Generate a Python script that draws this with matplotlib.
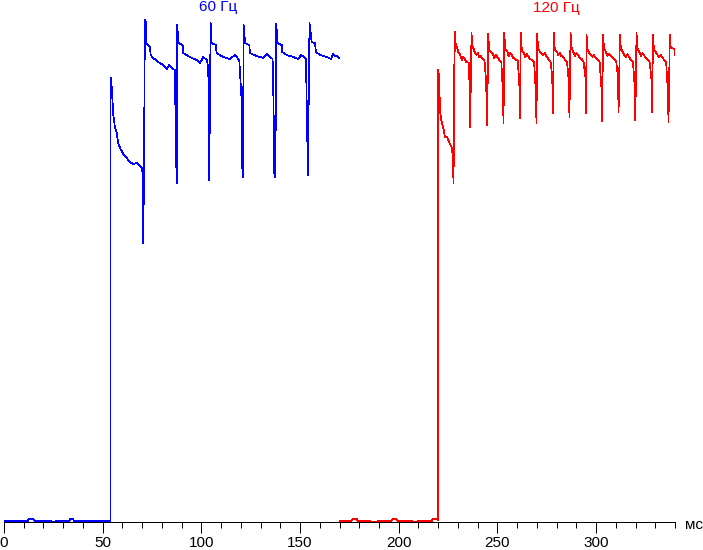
import matplotlib
matplotlib.use("Agg")
import matplotlib.pyplot as plt
from matplotlib.ticker import MultipleLocator

plt.rcParams["font.family"] = ["Liberation Sans", "DejaVu Sans"]

# --- Data: brightness trace vertices (time in ms, level in arbitrary units) ---
blue_t = [0, 12, 12.5, 15, 15.5, 24, 24.5, 26, 26.5, 33, 33.5, 35, 35.5, 53.9,
          54.0, 54.3, 55.4, 56.2, 57.1, 57.9, 58.8, 60.4, 62.2, 63.8, 65.5, 67.2, 68.6, 69.8, 70.2, 70.4, 70.6, 70.9,
          71.4, 71.8, 72.0, 74.0, 74.3, 75.6, 78.2, 80.7, 82.4, 83.8, 85.0, 86.6, 87.1, 87.5,
          87.8, 88.3, 90.5, 90.8, 94.2, 97.6, 99.3, 101.0, 102.7, 103.5, 103.9, 104.0,
          104.7, 105.2, 107.4, 107.7, 111.1, 114.5, 117.0, 119.2, 120.4, 120.7, 121.1,
          121.4, 121.7, 122.1, 124.3, 124.6, 128.0, 131.4, 133.1, 134.8, 136.1, 136.6, 136.9, 137.5,
          138.0, 138.5, 140.7, 141.0, 143.2, 146.6, 149.1, 150.5, 152.0, 153.0, 153.5, 154.0,
          154.8, 155.4, 155.9, 157.5, 158.1, 160.1, 163.5, 165.7, 166.8, 167.7, 168.9, 169.9]
blue_v = [1, 1, 3, 3, 1, 1, 0, 0, 1, 1, 3, 3, 1, 1,
          444, 444, 407, 395, 389, 379, 374, 368, 364, 360, 358, 359, 357, 354, 349, 305, 279, 349,
          502, 500, 479, 475, 467, 464, 460, 457, 453, 457, 454, 452, 375, 339,
          497, 479, 477, 469, 465, 462, 459, 465, 462, 455, 369, 342,
          499, 479, 477, 469, 465, 463, 467, 462, 422, 355, 345,
          497, 492, 479, 477, 469, 466, 464, 468, 465, 463, 415, 349, 345,
          498, 479, 477, 470, 467, 465, 463, 467, 465, 463, 405, 347,
          499, 489, 480, 479, 470, 467, 465, 463, 468, 466, 466, 464]

red_t = [170.2, 176.1, 176.6, 178.7, 179.2, 185.4, 185.9, 188.8, 189.3, 196.4, 196.9, 198.9, 199.4,
         206.5, 207.0, 209.1, 209.6, 216.7, 217.2, 219.2, 219.8,
         220.0, 220.5, 220.9, 221.4, 221.9, 222.6, 223.4, 224.6, 225.1, 225.9, 227.1, 227.6, 227.8, 228.1,
         228.6, 228.9, 229.6, 230.2, 231.2, 231.9, 232.6, 233.4, 234.3, 235.6, 236.0, 236.2,
         236.9, 237.2, 237.8, 238.5, 239.4, 240.1, 240.8, 241.6, 242.5, 243.5, 244.3, 244.6, 244.8,
         245.4, 245.7, 246.0, 246.9, 247.6, 248.4, 249.2, 250.0, 251.0, 252.0, 252.8, 253.1,
         253.5, 253.8, 254.1, 255.0, 255.7, 256.5, 257.3, 258.1, 259.1, 260.3, 261.1, 261.4,
         261.9, 262.2, 262.5, 263.3, 264.1, 264.8, 265.6, 266.5, 267.5, 268.6, 269.5, 269.8,
         270.2, 270.5, 270.8, 271.6, 272.4, 273.2, 274.0, 274.8, 275.8, 276.9, 277.8, 278.1,
         278.6, 278.9, 279.2, 280.0, 280.8, 281.6, 282.4, 283.3, 284.3, 285.3, 286.2, 286.5,
         287.1, 287.4, 287.7, 288.5, 289.3, 290.1, 290.9, 291.7, 292.7, 293.7, 294.6, 294.9,
         295.2, 295.5, 295.8, 296.6, 297.4, 298.2, 299.0, 299.8, 300.8, 301.8, 302.7, 303.0,
         303.6, 303.9, 304.2, 305.0, 305.8, 306.6, 307.4, 308.2, 309.2, 310.2, 311.1, 311.4,
         312.1, 312.4, 312.7, 313.5, 314.3, 315.1, 315.9, 316.7, 317.7, 318.7, 319.6, 319.9,
         320.5, 320.8, 321.1, 321.9, 322.7, 323.5, 324.3, 325.1, 326.1, 327.1, 328.0, 328.3,
         328.9, 329.2, 329.5, 330.3, 331.1, 331.9, 332.7, 333.5, 334.5, 335.5, 336.4, 336.7,
         337.4, 337.7, 338.0, 338.6, 339.3, 339.9, 339.9]
red_v = [1, 1, 3, 3, 1, 1, 0, 0, 1, 1, 3, 3, 1,
         1, 0, 0, 1, 1, 3, 3, 2,
         452, 445, 412, 404, 399, 394, 385, 385, 382, 378, 374, 349, 339, 450,
         490, 477, 474, 470, 467, 462, 465, 463, 460, 459, 425, 395,
         489, 477, 474, 470, 467, 469, 465, 466, 463, 461, 440, 415, 397,
         488, 476, 472, 470, 468, 464, 467, 465, 462, 460, 430, 399,
         489, 478, 473, 471, 466, 469, 467, 464, 463, 461, 440, 404,
         489, 476, 472, 469, 465, 468, 466, 463, 462, 460, 430, 399,
         488, 477, 473, 470, 468, 467, 469, 466, 463, 461, 445, 409,
         489, 477, 472, 471, 467, 469, 466, 465, 462, 460, 440, 405,
         489, 478, 474, 470, 466, 469, 467, 464, 463, 460, 445, 409,
         487, 476, 472, 469, 467, 465, 467, 464, 462, 460, 435, 401,
         487, 477, 473, 470, 466, 468, 466, 465, 463, 461, 445, 410,
         487, 477, 473, 470, 467, 465, 468, 465, 462, 460, 435, 402,
         489, 477, 473, 470, 466, 469, 467, 464, 463, 460, 445, 410,
         487, 476, 472, 470, 467, 465, 467, 465, 462, 460, 430, 400,
         487, 476, 475, 474, 473, 472, 467]

labels = ["60 Гц", "120 Гц"]
label_pos = [(108.5, 515), (280.0, 514)]
colors = ["#0000ff", "#ff0000"]

# --- Figure ---
fig = plt.figure(figsize=(7.03, 5.50), dpi=100)
ax = fig.add_axes([4 / 703, 28 / 550, 671 / 703, 522 / 550])

ax.plot(blue_t, blue_v, color=colors[0], lw=0.5, antialiased=False)
ax.plot(red_t, red_v, color=colors[1], lw=0.5, antialiased=False)

for text, (x, y), c in zip(labels, label_pos, colors):
    ax.text(x, y, text, color=c, fontsize=11, ha="center", va="center")

ax.set_xlim(0, 340)
ax.set_ylim(0, 522)
for side in ["left", "top", "right"]:
    ax.spines[side].set_visible(False)
ax.spines["bottom"].set_linewidth(0.72)
ax.set_yticks([])
ax.xaxis.set_major_locator(MultipleLocator(50))
ax.xaxis.set_minor_locator(MultipleLocator(10))
ax.tick_params(axis="x", which="major", length=8, width=0.72, labelsize=11, pad=2)
ax.tick_params(axis="x", which="minor", length=4.3, width=0.72)
ax.set_xticks([0, 50, 100, 150, 200, 250, 300])
ax.set_xticklabels(["0", "50", "100", "150", "200", "250", "300"])

fig.text(685 / 703, 21 / 550, "мс", fontsize=11, ha="left", va="baseline")

fig.savefig("out.png", dpi=100)
plt.close(fig)
